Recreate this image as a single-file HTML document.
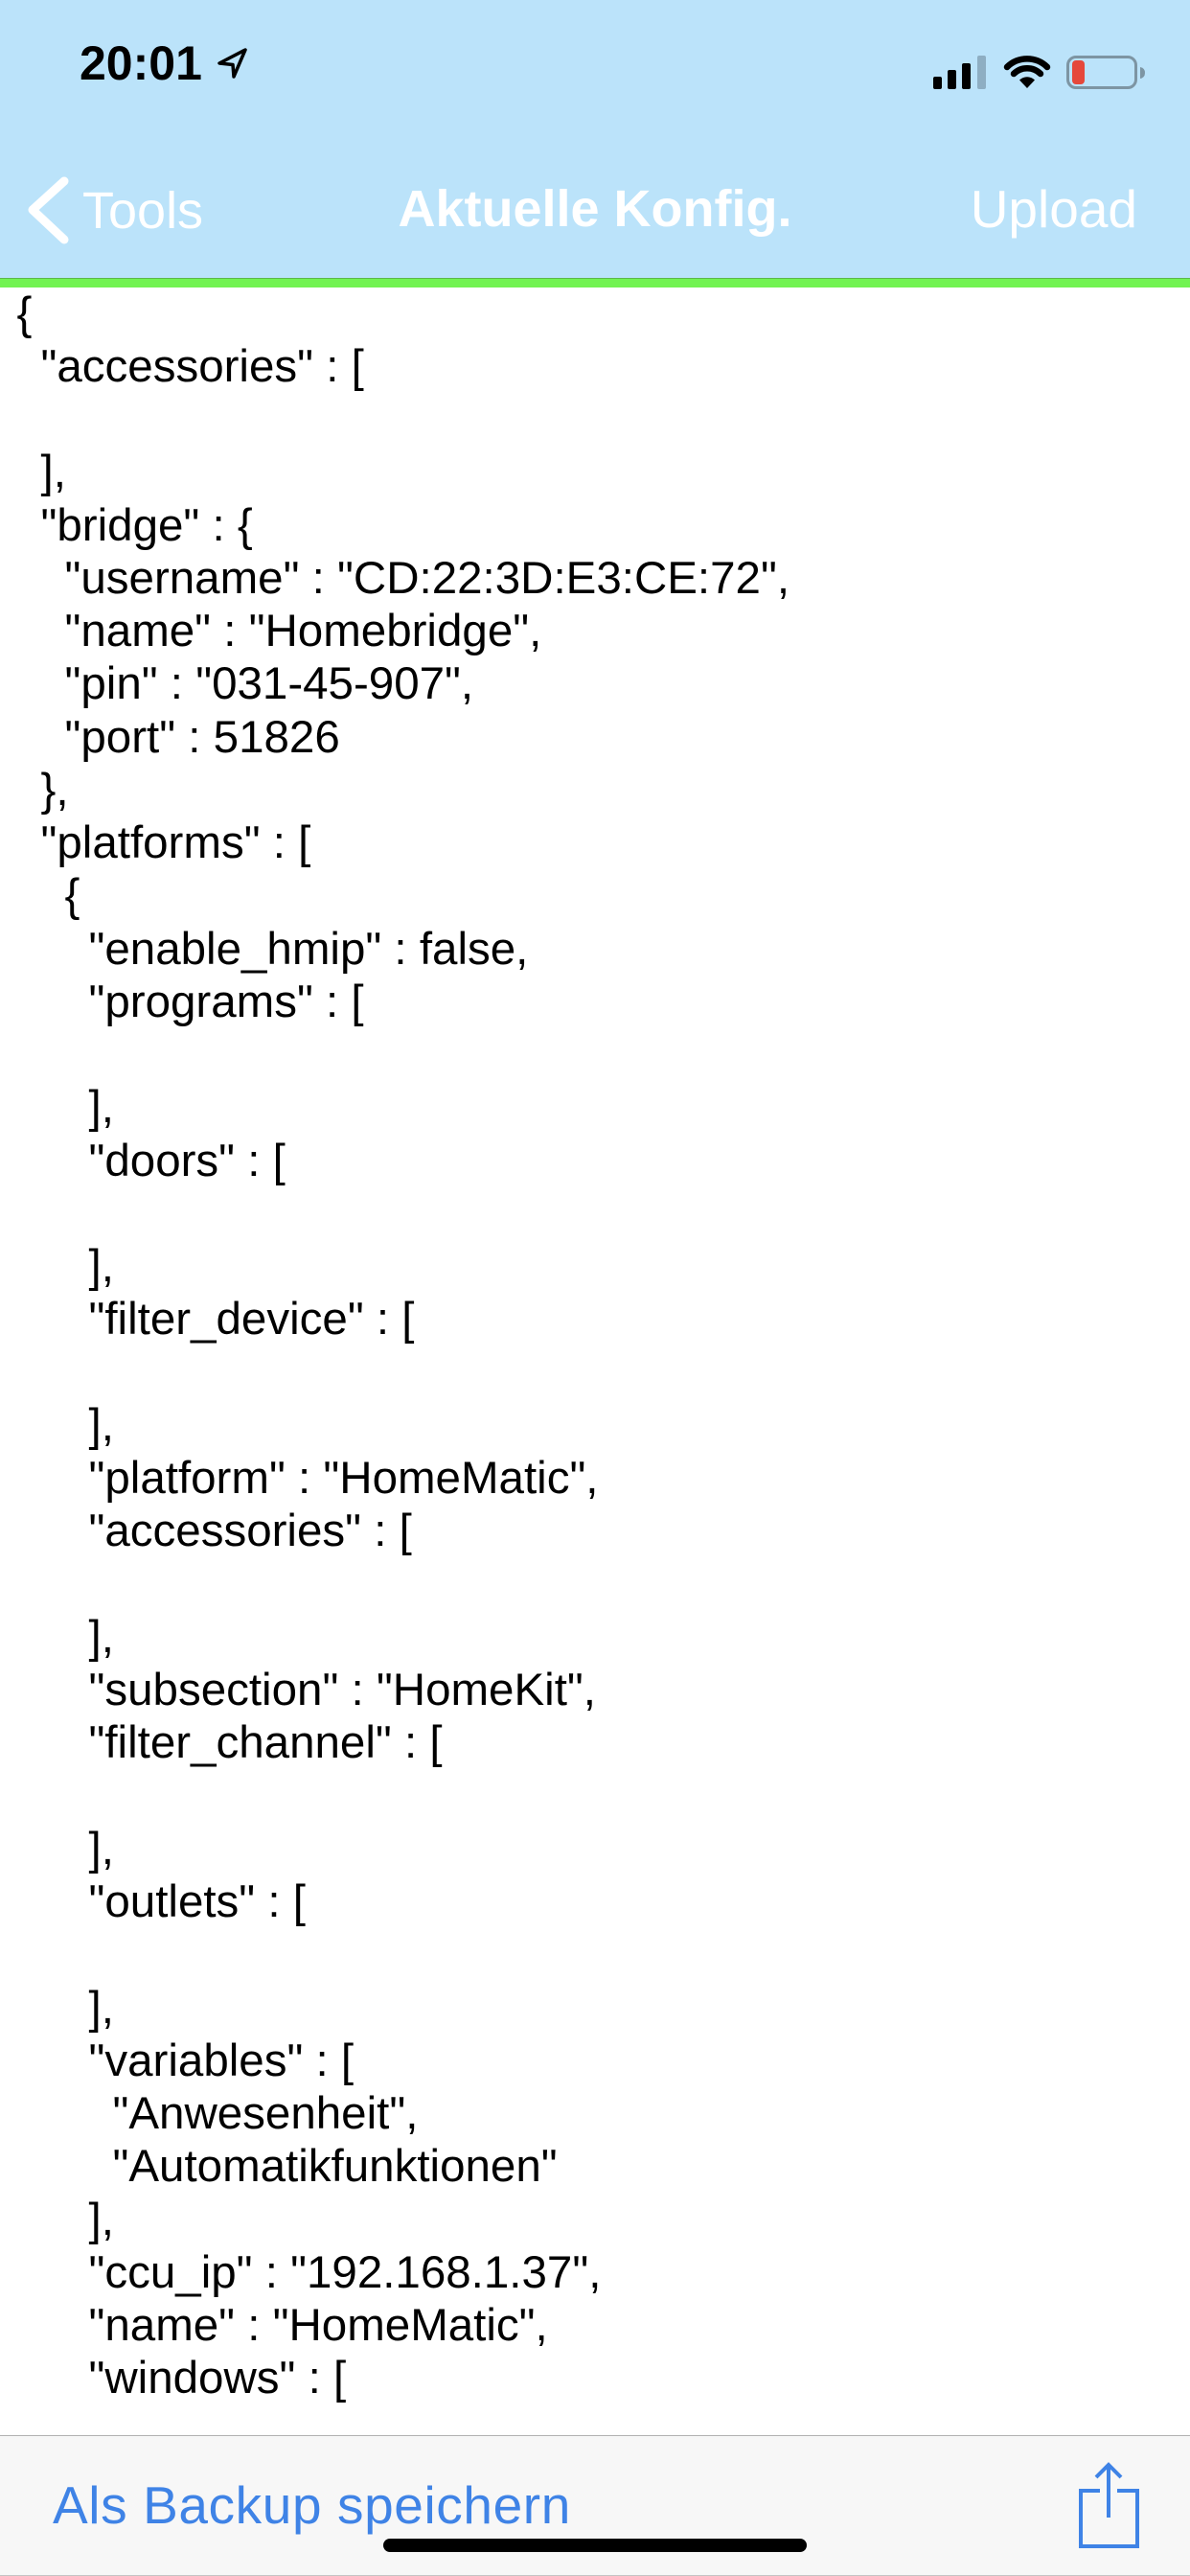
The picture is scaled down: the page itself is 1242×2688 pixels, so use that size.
<!DOCTYPE html>
<html>
<head>
<meta charset="utf-8">
<style>
  html, body { margin:0; padding:0; }
  body { width:1242px; height:2688px; position:relative; overflow:hidden; background:#ffffff; font-family:"Liberation Sans", Arial, sans-serif; }
  .nav { position:absolute; left:0; top:0; width:1242px; height:291px; background:#BBE3FA; }
  .green { position:absolute; left:0; top:290px; width:1242px; height:10px; background:#72F352; }
  .green-top { position:absolute; left:0; top:290px; width:1242px; height:1px; background:#5DB84A; }
  .time { position:absolute; left:83px; top:40.7px; font-size:50px; line-height:50px; font-weight:bold; color:#000; }
  .title { position:absolute; left:0; width:1242px; text-align:center; top:191.3px; font-size:54px; line-height:54px; font-weight:bold; color:#fff; }
  .tools { position:absolute; left:86px; top:193.3px; font-size:54px; line-height:54px; color:#fff; }
  .upload { position:absolute; right:55px; top:191.4px; font-size:55px; line-height:55px; color:#fff; }
  .code { position:absolute; left:0; top:299.6px; width:1242px; font-size:47.5px; color:#000; }
  .code div { height:55.26px; line-height:55.26px; white-space:pre; }
  .l0 { padding-left:17.5px; }
  .l1 { padding-left:42.5px; }
  .l2 { padding-left:67.5px; }
  .l3 { padding-left:92.5px; }
  .l4 { padding-left:117.5px; }
  .toolbar { position:absolute; left:0; top:2541px; width:1242px; height:147px; background:#F7F7F7; border-top:1px solid #B2B2B2; box-sizing:border-box; }
  .bottomline { position:absolute; left:0; top:2687px; width:1242px; height:1px; background:#C4C4C4; }
  .backup { position:absolute; left:55px; top:2587.4px; font-size:55px; line-height:55px; letter-spacing:0.6px; color:#3F83E6; }
  .home { position:absolute; left:400px; top:2649px; width:442px; height:14px; border-radius:7px; background:#000; }
</style>
</head>
<body>
<div class="nav"></div>
<div class="green"></div>
<div class="green-top"></div>

<div class="time">20:01</div>
<svg style="position:absolute;left:0;top:0" width="1242" height="300" viewBox="0 0 1242 300">
  <!-- location arrow -->
  <path d="M256 52 L229 66 L243 67.5 L244 80 Z" fill="none" stroke="#000" stroke-width="3.5" stroke-linejoin="round"/>
  <!-- signal bars -->
  <rect x="974" y="80" width="9" height="13" rx="2" fill="#000"/>
  <rect x="989" y="73" width="9" height="20" rx="2" fill="#000"/>
  <rect x="1004" y="66" width="9" height="27" rx="2" fill="#000"/>
  <rect x="1020" y="58" width="9" height="35" rx="2" fill="#8EAEC2"/>
  <!-- wifi -->
  <path d="M1072 92 L1064 83.5 A11.5 11.5 0 0 1 1080 83.5 Z" fill="#000"/>
  <path d="M1058 77 A20 20 0 0 1 1086 77" fill="none" stroke="#000" stroke-width="6.5" stroke-linecap="round"/>
  <path d="M1051 70 A30 30 0 0 1 1093 70" fill="none" stroke="#000" stroke-width="6.5" stroke-linecap="round"/>
  <!-- battery -->
  <rect x="1114.5" y="59.5" width="71" height="32" rx="8.5" fill="none" stroke="#7D95A3" stroke-width="3"/>
  <path d="M1190 70 Q1195 71 1195 76 Q1195 81 1190 82 Z" fill="#7D95A3"/>
  <rect x="1119" y="63" width="13" height="25" rx="4" fill="#E5483B"/>
  <!-- back chevron -->
  <path d="M67 189 L34 219 L67 250" fill="none" stroke="#fff" stroke-width="9" stroke-linecap="round" stroke-linejoin="round"/>
</svg>
<div class="tools">Tools</div>
<div class="title">Aktuelle Konfig.</div>
<div class="upload">Upload</div>

<div class="code">
<div class="l0">{</div>
<div class="l1">"accessories" : [</div>
<div class="l1"></div>
<div class="l1">],</div>
<div class="l1">"bridge" : {</div>
<div class="l2">"username" : "CD:22:3D:E3:CE:72",</div>
<div class="l2">"name" : "Homebridge",</div>
<div class="l2">"pin" : "031-45-907",</div>
<div class="l2">"port" : 51826</div>
<div class="l1">},</div>
<div class="l1">"platforms" : [</div>
<div class="l2">{</div>
<div class="l3">"enable_hmip" : false,</div>
<div class="l3">"programs" : [</div>
<div class="l3"></div>
<div class="l3">],</div>
<div class="l3">"doors" : [</div>
<div class="l3"></div>
<div class="l3">],</div>
<div class="l3">"filter_device" : [</div>
<div class="l3"></div>
<div class="l3">],</div>
<div class="l3">"platform" : "HomeMatic",</div>
<div class="l3">"accessories" : [</div>
<div class="l3"></div>
<div class="l3">],</div>
<div class="l3">"subsection" : "HomeKit",</div>
<div class="l3">"filter_channel" : [</div>
<div class="l3"></div>
<div class="l3">],</div>
<div class="l3">"outlets" : [</div>
<div class="l3"></div>
<div class="l3">],</div>
<div class="l3">"variables" : [</div>
<div class="l4">"Anwesenheit",</div>
<div class="l4">"Automatikfunktionen"</div>
<div class="l3">],</div>
<div class="l3">"ccu_ip" : "192.168.1.37",</div>
<div class="l3">"name" : "HomeMatic",</div>
<div class="l3">"windows" : [</div>
</div>

<div class="toolbar"></div>
<div class="bottomline"></div>
<div class="backup">Als Backup speichern</div>
<svg style="position:absolute;left:1100px;top:2550px" width="120" height="130" viewBox="1100 2550 120 130">
  <path d="M1148 2599 L1128 2599 L1128 2657 L1187 2657 L1187 2599 L1166 2599" fill="none" stroke="#3F83E6" stroke-width="4"/>
  <path d="M1157 2573 L1157 2627" fill="none" stroke="#3F83E6" stroke-width="4"/>
  <path d="M1144 2585 L1157 2572 L1170 2585" fill="none" stroke="#3F83E6" stroke-width="4" stroke-linejoin="miter"/>
</svg>
<div class="home"></div>
</body>
</html>
